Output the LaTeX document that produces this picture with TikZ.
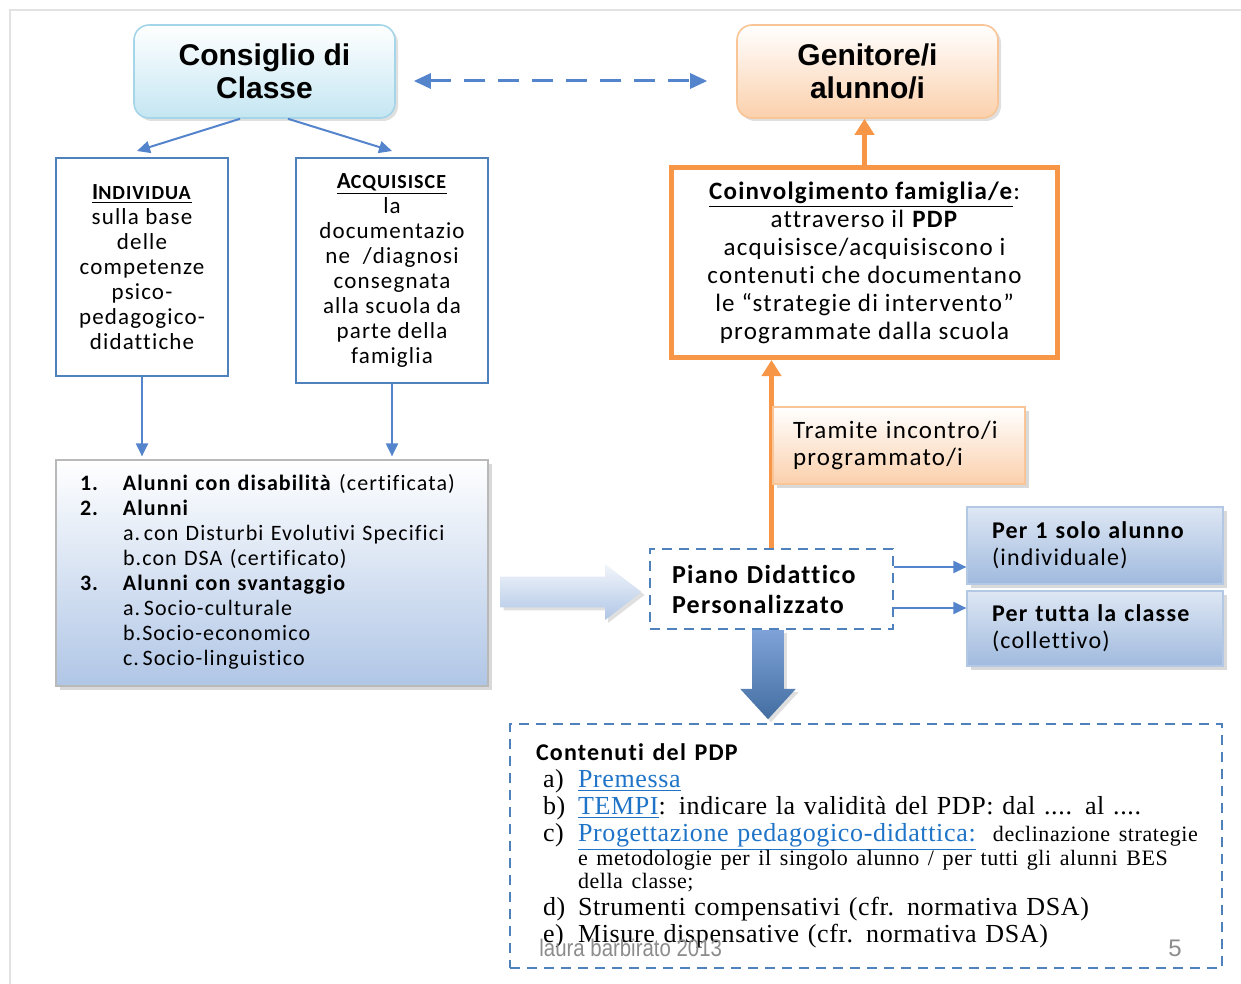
\documentclass[tikz,border=0pt]{standalone}
\usepackage{fontspec}
\setmainfont{Carlito}[LetterSpace=5, Ligatures=NoCommon]
\newfontfamily\headfont{Liberation Sans}
\newfontfamily\serfont{Liberation Serif}[LetterSpace=2.5]
\usepackage{tikz}
\usetikzlibrary{arrows.meta, positioning, calc, shadows, shapes.arrows}

\definecolor{bordoblu}{RGB}{79,129,189}
\definecolor{frecciablu}{RGB}{84,132,204}
\definecolor{arancio}{RGB}{247,150,70}
\definecolor{aranciochiaro}{RGB}{251,208,172}
\definecolor{bordoarancio}{RGB}{249,196,150}
\definecolor{celeste}{RGB}{196,230,242}
\definecolor{bordoceleste}{RGB}{165,213,232}
\definecolor{bluelista}{RGB}{176,198,230}
\definecolor{bluebox}{RGB}{160,186,222}
\definecolor{bluechiaro}{RGB}{222,231,244}
\definecolor{grigiocornice}{RGB}{226,226,226}
\definecolor{grigiofirma}{RGB}{140,140,140}
\definecolor{linkblu}{RGB}{31,116,200}

\newcommand{\collegamento}[1]{\textcolor{linkblu}{\underline{#1}}}

\begin{document}
\begin{tikzpicture}[
  x=0.5pt, y=-0.5pt,
  >=Stealth,
  titolo/.style={
    rounded corners=7.5pt,
    minimum width=130.5pt,
    minimum height=46.5pt,
    line width=0.8pt,
    align=center,
    font=\headfont\bfseries\fontsize{15}{16.5}\selectfont,
    drop shadow={shadow xshift=1.5pt, shadow yshift=-1.5pt, opacity=0.25},
  },
  sceltabox/.style={
    draw=bordoblu,
    line width=1pt,
    fill=white,
    align=center,
    inner sep=0pt,
    font=\fontsize{11.5}{12.5}\selectfont,
  },
  ombrabox/.style={
    draw=#1,
    line width=0.6pt,
    align=left,
    drop shadow={shadow xshift=2pt, shadow yshift=-2pt, opacity=0.3},
  },
  tratteggio/.style={
    draw=bordoblu,
    dash pattern=on 5pt off 3.5pt,
    line width=0.8pt,
    fill=white,
  },
  arr/.style={
    -{Triangle[length=6.5pt, width=6pt]},
    line width=1pt,
    frecciablu,
  },
  arrarancio/.style={
    -{Triangle[length=8pt, width=9.5pt]},
    line width=2.5pt,
    arancio,
  },
  freccione/.style={
    single arrow,
    draw=none,
  },
]

\useasboundingbox (0,0) rectangle (1241,984);

% ============================================================
% CORNICE DELLA DIAPOSITIVA
% ============================================================
\draw[grigiocornice, line width=0.75pt] (10,984) -- (10,10) -- (1241,10);

% ============================================================
% TITOLI IN ALTO
% ============================================================
\node[titolo, draw=bordoceleste, top color=white, bottom color=celeste]
  (consiglio) at (264.5, 71.5) {Consiglio di\\Classe};
\node[titolo, draw=bordoarancio, top color=white, bottom color=aranciochiaro]
  (genitori) at (867.5, 71.5) {Genitore/i\\alunno/i};

\draw[{Triangle[length=8.5pt, width=7.5pt]}-{Triangle[length=8.5pt, width=7.5pt]},
      line width=1.5pt, frecciablu, dash pattern=on 10.5pt off 6.5pt]
  ([xshift=9pt, yshift=-4.75pt]consiglio.east) -- ([xshift=-14.5pt, yshift=-4.75pt]genitori.west);

% ============================================================
% COLONNA SINISTRA
% ============================================================
\node[sceltabox, minimum width=86pt, minimum height=109pt]
  (individua) at (142, 267)
  {\underline{\textbf{I{\fontsize{10}{10}\selectfont NDIVIDUA}}}\\
   sulla base\\delle\\competenze\\psico-\\pedagogico-\\didattiche};
\node[sceltabox, minimum width=96pt, minimum height=112.5pt]
  (acquisisce) at (392, 270.5)
  {\underline{\textbf{A{\fontsize{10}{10}\selectfont CQUISISCE}}}\\
   la\\documentazio\\ne~~/diagnosi\\consegnata\\alla scuola da\\parte della\\famiglia};

\draw[arr] ([xshift=-12.25pt]consiglio.south) -- ([xshift=-2.5pt, yshift=3pt]individua.north);
\draw[arr] ([xshift=11.75pt]consiglio.south) -- ([yshift=3pt]acquisisce.north);

\node[ombrabox=gray!55, top color=white, bottom color=bluelista,
      minimum width=216pt, minimum height=113pt, inner xsep=12pt, text width=192pt,
      font=\fontsize{11}{12.5}\selectfont]
  (alunni) at (272, 573)
  {\begin{tabular}{@{}p{21.5pt}@{}l@{}}
   \textbf{1.} & \textbf{Alunni con disabilità} (certificata)\\
   \textbf{2.} & \textbf{Alunni}\\
   & a.\,con Disturbi Evolutivi Specifici\\
   & b.con DSA (certificato)\\
   \textbf{3.} & \textbf{Alunni con svantaggio}\\
   & a.\,Socio-culturale\\
   & b.Socio-economico\\
   & c.\,Socio-linguistico
   \end{tabular}};

\draw[arr] (individua.south) -- ([yshift=1.5pt]individua.south |- alunni.north);
\draw[arr] (acquisisce.south) -- ([yshift=1.5pt]acquisisce.south |- alunni.north);

% ============================================================
% PIANO DIDATTICO PERSONALIZZATO
% ============================================================
\node[tratteggio, minimum width=121.5pt, minimum height=40pt, align=left,
      inner xsep=11pt, text width=99.5pt,
      font=\bfseries\fontsize{13}{15}\selectfont]
  (pdp) at (771.5, 589) {Piano Didattico\\Personalizzato};

\node[freccione, anchor=tip, minimum height=70.5pt, minimum width=27.5pt, inner sep=7.5pt,
      single arrow head extend=6.25pt, single arrow tip angle=75,
      top color=bluechiaro!40!white, bottom color=bluelista,
      drop shadow={shadow xshift=1.5pt, shadow yshift=-1.5pt, opacity=0.25}]
  (frecciapdp) at ([xshift=-3.5pt, yshift=-1.5pt]pdp.west) {};

% ============================================================
% COLONNA DESTRA: FAMIGLIA
% ============================================================
\node[draw=arancio, line width=2.5pt, fill=white, align=center,
      minimum width=193pt, minimum height=95pt,
      font=\fontsize{12.5}{14}\selectfont]
  (coinvolgimento) at (864.5, 262.5)
  {\underline{\textbf{Coinvolgimento famiglia/e}}:\\
   attraverso il \textbf{PDP}\\
   acquisisce/acquisiscono i\\
   contenuti che documentano\\
   le “strategie di intervento”\\
   programmate dalla scuola};

\draw[arrarancio] (coinvolgimento.north) -- (coinvolgimento.north |- genitori.south);
\draw[arrarancio] (pdp.north) -- (pdp.north |- coinvolgimento.south);

\node[ombrabox=bordoarancio, top color=white, bottom color=aranciochiaro,
      minimum width=126pt, minimum height=38.5pt, inner xsep=10pt, text width=106pt,
      font=\fontsize{12.5}{13.5}\selectfont]
  (tramite) at (899, 445.5) {Tramite incontro/i\\programmato/i};

% ============================================================
% DESTINATARI DEL PDP
% ============================================================
\node[ombrabox=bluebox!80!white, top color=bluechiaro, bottom color=bluebox,
      minimum width=128pt, minimum height=38.5pt, inner xsep=12.5pt, text width=103pt,
      font=\fontsize{12}{13.5}\selectfont]
  (unoalunno) at (1095, 545.5) {\mbox{\textbf{Per 1 solo alunno}}\\(individuale)};
\node[ombrabox=bluebox!80!white, top color=bluechiaro, bottom color=bluebox,
      minimum width=128pt, minimum height=37.5pt, inner xsep=12.5pt, text width=103pt,
      font=\fontsize{12}{13.5}\selectfont]
  (classe) at (1095, 628.5) {\mbox{\textbf{Per tutta la classe}}\\(collettivo)};

\draw[arr] ([yshift=11pt]pdp.east) -- ([yshift=11pt]pdp.east -| unoalunno.west);
\draw[arr] ([yshift=-9.5pt]pdp.east) -- ([yshift=-9.5pt]pdp.east -| classe.west);

% ============================================================
% CONTENUTI DEL PDP
% ============================================================
\node[tratteggio, minimum width=356pt, minimum height=122pt, align=left,
      inner xsep=13pt, text width=330pt,
      font=\serfont\fontsize{13}{13.5}\selectfont]
  (contenuti) at (866, 846)
  {\begin{tabular}{@{\hspace{3.5pt}}p{17.5pt}@{}l@{}}
   \multicolumn{2}{@{}l@{}}{\normalfont\bfseries\fontsize{12}{13.5}\selectfont Contenuti del PDP}\\
   a) & \collegamento{Premessa}\\
   b) & \collegamento{TEMPI}: indicare la validità del PDP: dal .... al ....\\
   c) & \collegamento{Progettazione pedagogico-didattica:}~~{\fontsize{11}{11}\selectfont declinazione strategie}\\[-2pt]
      & {\fontsize{11}{11}\selectfont e metodologie per il singolo alunno / per tutti gli alunni BES}\\[-2pt]
      & {\fontsize{11}{11}\selectfont della classe;}\\
   d) & Strumenti compensativi (cfr. normativa DSA)\\
   e) & Misure dispensative (cfr. normativa DSA)
   \end{tabular}};

\node[freccione, anchor=tail, shape border rotate=270, minimum height=44.5pt, minimum width=27.5pt,
      inner sep=7.75pt, single arrow head extend=6pt, single arrow tip angle=85,
      top color=frecciablu!75!white, bottom color=bordoblu!85!black,
      drop shadow={shadow xshift=1.5pt, shadow yshift=-1.5pt, opacity=0.25}]
  (frecciacontenuti) at ([xshift=-1.75pt]pdp.south) {};

% firma e numero di pagina
\node[font=\headfont\fontsize{12}{12}\selectfont, text=grigiofirma, anchor=west, inner sep=0pt]
  (firma) at (539, 948) {\scalebox{0.85}[1]{laura barbirato 2013}};
\node[font=\headfont\fontsize{12}{12}\selectfont, text=grigiofirma, inner sep=0pt]
  (pagina) at (1175, 948) {5};

\end{tikzpicture}
\end{document}
